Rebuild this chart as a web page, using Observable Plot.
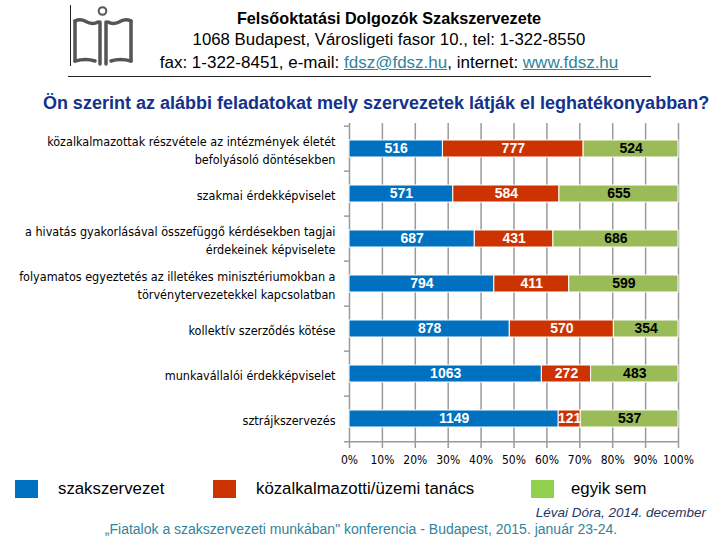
<!DOCTYPE html>
<html><head><meta charset="utf-8">
<script src="https://cdn.jsdelivr.net/npm/d3@7"></script>
<script src="https://cdn.jsdelivr.net/npm/@observablehq/plot@0.6"></script>
<style>
body{margin:0;background:#fff;}
#page{position:relative;width:720px;height:540px;overflow:hidden;font-family:"Liberation Sans",Arial,sans-serif;color:#000;}
.abs{position:absolute;white-space:nowrap;line-height:1;}
.c{transform:translateX(-50%);}
a{color:#31849B;text-decoration:underline;}
#chart{position:absolute;left:0;top:100px;}
.sw{position:absolute;width:23px;height:18px;}
</style></head><body>
<div id="page">
  <svg class="abs" style="left:0;top:0" width="160" height="80">
    <line x1="70.5" y1="5" x2="70.5" y2="66" stroke="#222" stroke-width="1"/>
    <circle cx="102.5" cy="11" r="3.8" fill="none" stroke="#555" stroke-width="2"/>
    <g fill="none" stroke="#555" stroke-width="3.5" stroke-linecap="round">
      <path d="M75,21 Q81,18 87,22 Q93,25 98,22"/>
      <path d="M75,21 L75,61"/>
      <path d="M75,61 Q86,58 95,61"/>
      <path d="M100,22 L100,64"/>
      <path d="M106,22 L106,64"/>
      <path d="M108,22 Q113,25 119,22 Q125,18 131,21"/>
      <path d="M131,21 L131,61"/>
      <path d="M111,61 Q120,58 131,61"/>
    </g>
  </svg>
  <div class="abs c" style="left:389px;top:10px;font-size:16.2px;font-weight:bold;">Felsőoktatási Dolgozók Szakszervezete</div>
  <div class="abs c" style="left:389px;top:32px;font-size:16.8px;">1068 Budapest, Városligeti fasor 10., tel: 1-322-8550</div>
  <div class="abs c" style="left:389px;top:54px;font-size:17px;">fax: 1-322-8451, e-mail: <a>fdsz@fdsz.hu</a>, internet: <a>www.fdsz.hu</a></div>
  <div class="abs" style="left:68px;top:76px;width:583px;height:1px;background:#222;"></div>
  <div class="abs c" style="left:376px;top:94px;font-size:18px;font-weight:bold;color:#13328C;">Ön szerint az alábbi feladatokat mely szervezetek látják el leghatékonyabban?</div>
  <div id="chart"></div>
  <div id="legend"></div>
  <div class="abs" style="right:14px;top:506px;font-size:13.5px;font-style:italic;color:#1F3864;">Lévai Dóra, 2014. december</div>
  <div class="abs c" style="left:361px;top:522px;font-size:14px;color:#31849B;">„Fiatalok a szakszervezeti munkában" konferencia - Budapest, 2015. január 23-24.</div>
</div>
<script>
const categories = [
  "közalkalmazottak részvétele az intézmények életét befolyásoló döntésekben",
  "szakmai érdekképviselet",
  "a hivatás gyakorlásával összefüggő kérdésekben tagjai érdekeinek képviselete",
  "folyamatos egyeztetés az illetékes minisztériumokban a törvénytervezetekkel kapcsolatban",
  "kollektív szerződés kötése",
  "munkavállalói érdekképviselet",
  "sztrájkszervezés"
];
const categoryLabels = [
  "közalkalmazottak részvétele az intézmények életét\nbefolyásoló döntésekben",
  "szakmai érdekképviselet",
  "a hivatás gyakorlásával összefüggő kérdésekben tagjai\nérdekeinek képviselete",
  "folyamatos egyeztetés az illetékes minisztériumokban a\ntörvénytervezetekkel kapcsolatban",
  "kollektív szerződés kötése",
  "munkavállalói érdekképviselet",
  "sztrájkszervezés"
];
const seriesNames = ["szakszervezet", "közalkalmazotti/üzemi tanács", "egyik sem"];
const szakszervezet = [516, 571, 687, 794, 878, 1063, 1149];
const tanacs = [777, 584, 431, 411, 570, 272, 121];
const egyikSem = [524, 655, 686, 599, 354, 483, 537];
const xTicks = [0, 0.1, 0.2, 0.3, 0.4, 0.5, 0.6, 0.7, 0.8, 0.9, 1];
const barColors = ["#0070C0", "#CC3300", "#9BBB59"];
const legendColors = ["#0070C0", "#CC3300", "#92D050"];
const labelColors = ["white", "white", "black"];

const seriesValues = [szakszervezet, tanacs, egyikSem];
const rows = [];
categories.forEach((c, i) => {
  seriesNames.forEach((s, j) => rows.push({cat: c, series: s, value: seriesValues[j][i], si: j}));
});

const H = 380, MT = 23, MB = 37;
const step = (H - MT - MB) / categories.length;
const narrow = "'Liberation Sans Narrow','DejaVu Sans Condensed',sans-serif";
const grey = "#9a9a9a";

const chart = Plot.plot({
  width: 720, height: H,
  marginTop: MT, marginBottom: MB, marginLeft: 349, marginRight: 42,
  style: {background: "transparent", color: "#000", fontFamily: "'Liberation Sans',Arial,sans-serif"},
  x: {domain: [0, 1], axis: null, label: null},
  y: {domain: categories, paddingInner: 0.63, paddingOuter: 0.315, axis: null, label: null},
  color: {domain: seriesNames, range: barColors},
  marks: [
    Plot.ruleX(xTicks, {stroke: grey, strokeWidth: 1.5}),
    Plot.ruleY(categories, {x1: 0, x2: 0, insetLeft: -5, dy: -step / 2, stroke: grey, strokeWidth: 1.5}),
    Plot.ruleY([categories[categories.length - 1]], {x1: 0, x2: 1, insetLeft: -5, dy: step / 2, stroke: grey, strokeWidth: 1.5}),
    Plot.barX(rows, Plot.stackX({offset: "normalize", order: seriesNames, x: "value", y: "cat", fill: "series", stroke: "white", strokeWidth: 1})),
    Plot.text(rows, Plot.stackX({offset: "normalize", order: seriesNames, x: "value", y: "cat",
      text: d => String(d.value), fill: d => labelColors[d.si], fontWeight: "bold", fontSize: 14})),
    Plot.axisX({ticks: xTicks, tickFormat: d => Math.round(d * 100) + "%", tickSize: 5, tickPadding: 7,
      stroke: grey, strokeWidth: 1.5, fontSize: 12, fontFamily: narrow, fill: "#000", label: null}),
    Plot.axisY({tickSize: 0, tickPadding: 14, fontSize: 12.5, lineHeight: 1.45, fontFamily: narrow, fill: "#000", label: null,
      tickFormat: d => categoryLabels[categories.indexOf(d)]})
  ]
});
document.getElementById("chart").appendChild(chart);

const legend = document.getElementById("legend");
const legendX = [15, 213, 531];
const textX = [58, 256, 571];
seriesNames.forEach((s, i) => {
  const sw = document.createElement("div");
  sw.className = "sw";
  sw.style.left = legendX[i] + "px"; sw.style.top = "480px"; sw.style.background = legendColors[i];
  legend.appendChild(sw);
  const t = document.createElement("div");
  t.className = "abs";
  t.style.left = textX[i] + "px"; t.style.top = "481px"; t.style.fontSize = "16.8px";
  t.textContent = s;
  legend.appendChild(t);
});
</script>
</body></html>
